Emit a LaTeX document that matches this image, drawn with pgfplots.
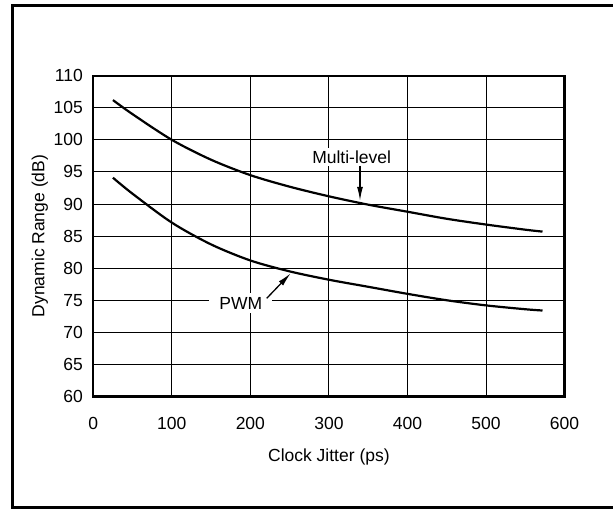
\documentclass[border=0pt]{standalone}
\usepackage{fontspec}
\setmainfont{Liberation Sans}
\usepackage{pgfplots}
\pgfplotsset{compat=1.18}
\usetikzlibrary{arrows.meta}
\begin{document}
\begin{tikzpicture}
\begin{axis}[
  at={(93.3pt,113.5pt)}, anchor=south west,
  scale only axis, width=471.2pt, height=320.8pt,
  xmin=0, xmax=600, ymin=60, ymax=110,
  xtick={0,100,...,600}, ytick={60,65,...,110},
  grid=major, major grid style={black, line width=0.9pt},
  axis line style={line width=2.2pt},
  major tick length=0pt,
  font=\fontsize{17.5}{21}\selectfont,
  /pgf/number format/assume math mode=true,
  xticklabel style={yshift=-17pt},
  yticklabel style={xshift=-7pt},
  xlabel={Clock Jitter (ps)},
  ylabel={Dynamic Range (dB)},
  xlabel style={at={([yshift=-65.5pt]rel axis cs:0.5,0)}, anchor=base},
  ylabel style={at={([xshift=-49pt]rel axis cs:0,0.5)}, anchor=base},
]
\addplot[black, line width=2.2pt, smooth] coordinates {
(25,106.2)(50,104.0)(100,100.0)(150,96.9)(200,94.5)(250,92.7)(300,91.2)(350,89.9)(400,88.8)(450,87.7)(500,86.8)(550,86.0)(572,85.7)};
\addplot[black, line width=2.2pt, smooth] coordinates {
(25,94.1)(50,91.6)(100,87.1)(150,83.7)(200,81.2)(250,79.5)(300,78.2)(350,77.1)(400,76.0)(450,75.0)(500,74.2)(550,73.6)(572,73.4)};
\node[fill=white, inner xsep=2pt, inner ysep=3pt, font=\fontsize{17.5}{21}\selectfont] at (axis cs:329,97.33) {Multi-level};
\node[fill=white, inner xsep=10pt, inner ysep=4pt, font=\fontsize{17.5}{21}\selectfont] at (axis cs:187.8,74.53) {PWM};
\draw[-{Latex[length=14pt,width=6pt]}, line width=1.3pt] (axis cs:339.6,96.0) -- (axis cs:339.6,90.5);
\draw[-{Latex[length=14pt,width=6pt]}, line width=1.3pt] (axis cs:220.8,75.3) -- (axis cs:251.4,79.2);
\end{axis}
\draw[line width=3pt] (12.5pt,2.5pt) rectangle (640pt,504.5pt);
\pgfresetboundingbox
\useasboundingbox (0pt,0pt) rectangle (613pt,510pt);
\end{tikzpicture}
\end{document}
